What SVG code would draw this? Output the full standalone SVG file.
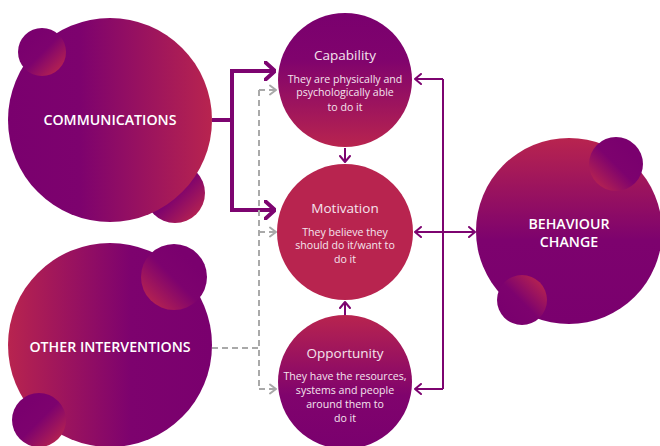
<svg xmlns="http://www.w3.org/2000/svg" width="660" height="446" viewBox="0 0 660 446">
  <defs>
    <linearGradient id="gCommBig" x1="0" y1="0" x2="1" y2="0">
      <stop offset="0" stop-color="#7a006e"/>
      <stop offset="0.35" stop-color="#7d026e"/>
      <stop offset="1" stop-color="#b8244f"/>
    </linearGradient>
    <linearGradient id="gOtherBig" x1="0" y1="0" x2="1" y2="0">
      <stop offset="0" stop-color="#b8244f"/>
      <stop offset="0.6" stop-color="#7d026e"/>
      <stop offset="1" stop-color="#7a006e"/>
    </linearGradient>
    <linearGradient id="gDown" x1="0" y1="0" x2="0" y2="1">
      <stop offset="0" stop-color="#7a006e"/>
      <stop offset="0.35" stop-color="#80036d"/>
      <stop offset="1" stop-color="#b8244f"/>
    </linearGradient>
    <linearGradient id="gUp" x1="0" y1="0" x2="0" y2="1">
      <stop offset="0" stop-color="#b8244f"/>
      <stop offset="0.6" stop-color="#80036d"/>
      <stop offset="1" stop-color="#7a006e"/>
    </linearGradient>
    <linearGradient id="gBeh" x1="0" y1="0" x2="0" y2="1">
      <stop offset="0" stop-color="#b8244f"/>
      <stop offset="0.55" stop-color="#7d026e"/>
      <stop offset="1" stop-color="#7a006e"/>
    </linearGradient>
    <!-- diagonal fills for the small satellite circles -->
    <linearGradient id="gTLtoBR" x1="0.25" y1="0.25" x2="0.9" y2="0.9">
      <stop offset="0" stop-color="#7a006e"/>
      <stop offset="0.4" stop-color="#7d026e"/>
      <stop offset="1" stop-color="#b8244f"/>
    </linearGradient>
    <linearGradient id="gTRtoBL" x1="0.75" y1="0.25" x2="0.1" y2="0.9">
      <stop offset="0" stop-color="#7a006e"/>
      <stop offset="0.4" stop-color="#7d026e"/>
      <stop offset="1" stop-color="#b8244f"/>
    </linearGradient>
    <linearGradient id="gBLtoTR" x1="0.2" y1="0.8" x2="0.9" y2="0.1">
      <stop offset="0" stop-color="#7a006e"/>
      <stop offset="0.4" stop-color="#7d026e"/>
      <stop offset="1" stop-color="#b8244f"/>
    </linearGradient>
    <marker id="mThick" viewBox="0 0 12 20" refX="11" refY="10" markerWidth="12" markerHeight="20" markerUnits="userSpaceOnUse" orient="auto">
      <path d="M1,1 L11,10 L1,19" fill="none" stroke="#7d0470" stroke-width="4" stroke-linecap="round" stroke-linejoin="round"/>
    </marker>
    <marker id="mThin" viewBox="0 0 8 12" refX="7" refY="6" markerWidth="8" markerHeight="12" markerUnits="userSpaceOnUse" orient="auto-start-reverse">
      <path d="M1,1 L7,6 L1,11" fill="none" stroke="#7d0470" stroke-width="2" stroke-linecap="round" stroke-linejoin="round"/>
    </marker>
    <marker id="mGrey" viewBox="0 0 8 12" refX="7" refY="6" markerWidth="8" markerHeight="12" markerUnits="userSpaceOnUse" orient="auto">
      <path d="M1,1.5 L7,6 L1,10.5" fill="none" stroke="#a9a9a9" stroke-width="2" stroke-linecap="round" stroke-linejoin="round"/>
    </marker>
  </defs>
  <style>
    .cap { font-family: "Open Sans", "DejaVu Sans", sans-serif; font-weight: 600; font-size: 14.2px; fill: #ffffff; text-anchor: middle; }
    .title { font-family: "Open Sans", "DejaVu Sans", sans-serif; font-size: 13.5px; fill: #f5e4ee; text-anchor: middle; }
    .body { font-family: "Open Sans", "DejaVu Sans", sans-serif; font-size: 10.6px; fill: #f5e4ee; text-anchor: middle; }
    .thick { fill: none; stroke: #7d0470; stroke-width: 4; }
    .thin { fill: none; stroke: #7d0470; stroke-width: 2; }
    .dash { fill: none; stroke: #a9a9a9; stroke-width: 2; stroke-dasharray: 6 4; }
  </style>

  <!-- connectors -->
  <g id="connectors">
    <path class="thick" d="M212,120 H232 M232,70 V211" />
    <path class="thick" d="M230,71 H275" marker-end="url(#mThick)"/>
    <path class="thick" d="M230,210 H275" marker-end="url(#mThick)"/>

    <path class="dash" d="M212,348 H259 M259,90 V389" />
    <path class="dash" d="M259,90 H276" stroke-dasharray="none" marker-end="url(#mGrey)"/>
    <path class="dash" d="M259,232 H276" stroke-dasharray="none" marker-end="url(#mGrey)"/>
    <path class="dash" d="M259,389 H276" stroke-dasharray="none" marker-end="url(#mGrey)"/>

    <path class="thin" d="M443,79 V389" />
    <path class="thin" d="M443,79 H415" marker-end="url(#mThin)"/>
    <path class="thin" d="M443,389 H415" marker-end="url(#mThin)"/>
    <path class="thin" d="M415,232 H475" marker-start="url(#mThin)" marker-end="url(#mThin)"/>

    <path class="thin" d="M345,148 V162" marker-end="url(#mThin)"/>
    <path class="thin" d="M345,316 V302" marker-end="url(#mThin)"/>
  </g>

  <g id="communications">
    <!-- lower satellite sits behind the main disc -->
    <circle cx="175" cy="193" r="30" fill="url(#gTLtoBR)"/>
    <circle cx="110" cy="120" r="102" fill="url(#gCommBig)"/>
    <circle cx="42" cy="52" r="24" fill="url(#gTLtoBR)"/>
    <text class="cap" x="110" y="125">COMMUNICATIONS</text>
  </g>

  <g id="other-interventions">
    <circle cx="110" cy="345" r="102" fill="url(#gOtherBig)"/>
    <circle cx="174" cy="277" r="33" fill="url(#gTRtoBL)"/>
    <circle cx="39" cy="420" r="27" fill="url(#gTLtoBR)"/>
    <text class="cap" x="110" y="352">OTHER INTERVENTIONS</text>
  </g>

  <g id="capability">
    <circle cx="345" cy="80" r="67" fill="url(#gDown)"/>
    <text class="title" x="345" y="60">Capability</text>
    <text class="body" x="345" y="83">They are physically and</text>
    <text class="body" x="345" y="96">psychologically able</text>
    <text class="body" x="345" y="111">to do it</text>
  </g>

  <g id="motivation">
    <circle cx="345" cy="232" r="68" fill="#b8244f"/>
    <text class="title" x="345" y="213">Motivation</text>
    <text class="body" x="345" y="236">They believe they</text>
    <text class="body" x="345" y="249">should do it/want to</text>
    <text class="body" x="345" y="263">do it</text>
  </g>

  <g id="opportunity">
    <circle cx="345" cy="382" r="67" fill="url(#gUp)"/>
    <text class="title" x="345" y="358">Opportunity</text>
    <text class="body" x="345" y="380">They have the resources,</text>
    <text class="body" x="345" y="394">systems and people</text>
    <text class="body" x="345" y="408">around them to</text>
    <text class="body" x="345" y="422">do it</text>
  </g>

  <g id="behaviour-change">
    <circle cx="569" cy="231" r="93" fill="url(#gBeh)"/>
    <circle cx="616" cy="164" r="27" fill="url(#gTRtoBL)"/>
    <circle cx="522" cy="300" r="25" fill="url(#gBLtoTR)"/>
    <text class="cap" x="569" y="229">BEHAVIOUR</text>
    <text class="cap" x="569" y="247">CHANGE</text>
  </g>
</svg>
